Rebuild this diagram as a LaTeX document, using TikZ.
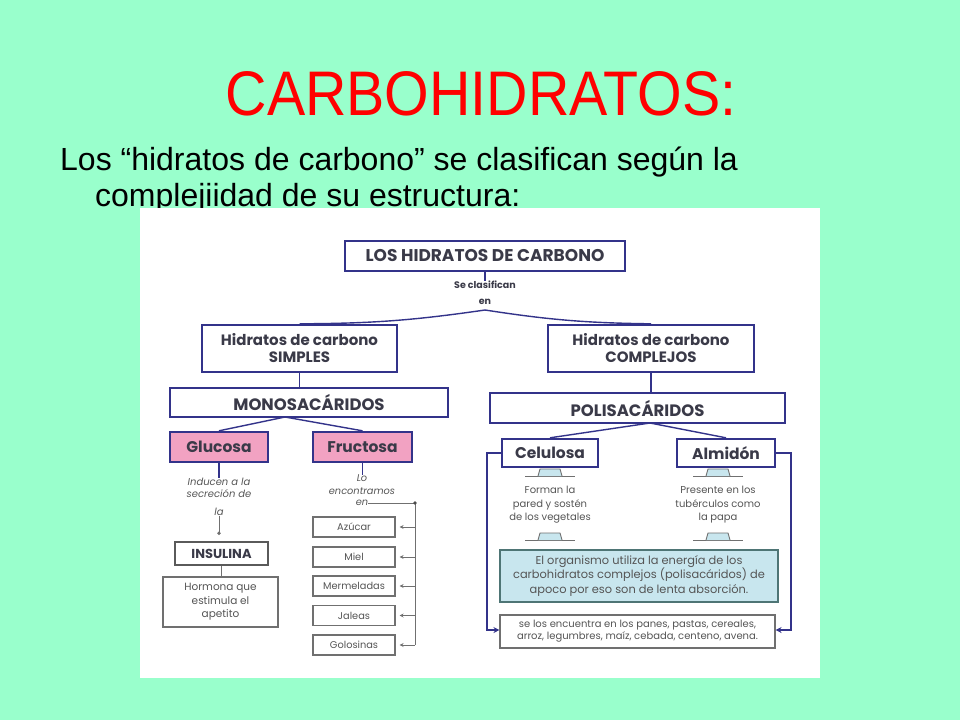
\documentclass[tikz,border=0pt]{standalone}
\usepackage{fontspec}
\setmainfont{Liberation Sans}
\newfontfamily\dg{Poppins}
\usetikzlibrary{arrows.meta}
\definecolor{bg}{HTML}{99FFCC}
\definecolor{navy}{HTML}{33338A}
\definecolor{txt}{HTML}{3A3A48}
\definecolor{pinkf}{HTML}{F2A2C2}
\definecolor{bluef}{HTML}{C8E6EE}
\definecolor{gline}{HTML}{707070}
\definecolor{gtxt}{HTML}{555555}
\begin{document}
\begin{tikzpicture}[x=1pt,y=-1pt,
  box/.style={draw=navy, line width=2.4pt, fill=white, text=txt, align=center, inner sep=0pt},
  pinkbox/.style={box, fill=pinkf, text=txt},
  thinbox/.style={draw=gline, line width=1.1pt, fill=white, text=gtxt, align=center, inner sep=0pt},
  small/.style={text=gtxt, align=center, inner sep=0pt, font=\dg\fontsize{10}{13.5}\selectfont},
  conn/.style={draw=navy, line width=1.4pt},
  gconn/.style={draw=gline, line width=1pt},
  linkicon/.pic={\draw[gline, line width=0.9pt] (-25,3)--(25,3);
     \draw[gline, fill=bluef, line width=0.9pt] (-12,3)--(-10,-4)--(10,-4)--(12,3);}
]
\useasboundingbox (0,0) rectangle (960,720);
\fill[bg] (0,0) rectangle (960,720);

% title and subtitle
\node[text=red, font=\fontsize{63}{63}\selectfont, anchor=base, inner sep=0pt] (title) at (481,115) {\scalebox{0.91}[1]{CARBOHIDRATOS:}};
\node[anchor=base west, inner sep=0pt, font=\fontsize{32}{32}\selectfont] (sub1) at (60,170) {Los “hidratos de carbono” se clasifican según la};
\node[anchor=base west, inner sep=0pt, font=\fontsize{32}{32}\selectfont] (sub2) at (95,206) {complejiidad de su estructura:};

% white picture area
\fill[white] (140,208) rectangle (820,678);

% top levels
\node[box, minimum width=280, minimum height=30, font=\dg\bfseries\fontsize{17}{17}\selectfont] (los) at (485,256) {LOS HIDRATOS DE CARBONO};
\node[small, font=\dg\bfseries\fontsize{9.5}{16}\selectfont, text=txt] (secl) at (485,293) {Se clasifican\\en};
\coordinate (apex) at (485,310);
\node[box, minimum width=195, minimum height=47, font=\dg\bfseries\fontsize{15}{17}\selectfont] (simp) at (299.5,348.5) {Hidratos de carbono\\SIMPLES};
\node[box, minimum width=206, minimum height=47, font=\dg\bfseries\fontsize{15}{17}\selectfont] (comp) at (651,348.5) {Hidratos de carbono\\COMPLEJOS};
\draw[conn] (los.south) -- (los.south |- 0,281);
\draw[conn] (apex) to[bend left=4] (simp.north);
\draw[conn] (apex) to[bend right=4] (comp.north);

\node[box, minimum width=278, minimum height=29, font=\dg\bfseries\fontsize{16.5}{17}\selectfont] (mono) at (309,402.5) {MONOSACÁRIDOS};
\node[box, minimum width=295, minimum height=30, font=\dg\bfseries\fontsize{16.5}{17}\selectfont] (poli) at (637.5,408) {POLISACÁRIDOS};
\draw[conn] (simp.south) -- (simp.south |- mono.north);
\draw[conn] (comp.south) -- (comp.south |- poli.north);

% monosacaridos branch
\node[pinkbox, minimum width=98, minimum height=30, font=\dg\bfseries\fontsize{15.5}{16}\selectfont] (glu) at (219,447) {Glucosa};
\node[pinkbox, minimum width=99, minimum height=30, font=\dg\bfseries\fontsize{15.5}{16}\selectfont] (fru) at (362.5,447) {Fructosa};
\coordinate (mapex) at (285,417);
\draw[conn] (mapex) -- (glu.north);
\draw[conn] (mapex) -- (fru.north);

\node[small, font=\dg\itshape\fontsize{10}{12.5}\selectfont] (ind) at (219,488) {Inducen a la\\secreción de};
\node[small, font=\dg\itshape\fontsize{10}{12}\selectfont] (la) at (219,512) {la};
\draw[conn, line width=1.1pt] (glu.south) -- (ind.north);
\node[box, line width=1.8pt, draw=gline!80!black, minimum width=93, minimum height=23, font=\dg\bfseries\fontsize{13}{13}\selectfont] (insu) at (221.5,553.5) {INSULINA};
\draw[gconn, -{Circle[length=3.5pt]}] (la.south -| 219,0) -- (219,535);
\node[thinbox, minimum width=115, minimum height=50, font=\dg\fontsize{10.5}{13.5}\selectfont] (horm) at (220.5,602) {Hormona que\\estimula el\\apetito};
\draw[gconn] (insu.south) -- (horm.north -| insu.south);

\node[small, font=\dg\itshape\fontsize{9.8}{13}\selectfont] (lo) at (362,485) {Lo\\encontramos};
\node[small, font=\dg\itshape\fontsize{9.8}{13}\selectfont] (en) at (362,503) {en};
\draw[conn, line width=1.1pt] (fru.south) -- (lo.north -| fru.south);
\coordinate (vtop) at (415,503);
\coordinate (vbot) at (415,645);
\draw[gconn] (en.east) -- (vtop) -- (vbot);
\fill[black!70] (vtop) circle (1.8);
\foreach \n/\t/\yy in {az/Azúcar/527, mi/Miel/557, me/Mermeladas/586, ja/Jaleas/615.5, go/Golosinas/645}{
  \node[thinbox, minimum width=82, minimum height=20, font=\dg\fontsize{9.8}{10}\selectfont] (\n) at (354,\yy) {\t};
  \draw[gconn, -{Stealth[length=4pt,width=4pt]}] (415,\yy) -- ([xshift=4pt]\n.east);
}

% polisacaridos branch
\node[box, minimum width=96, minimum height=28, fill=white, font=\dg\bfseries\fontsize{15.5}{16}\selectfont] (cel) at (550,453) {Celulosa};
\node[box, minimum width=98, minimum height=28, fill=white, font=\dg\bfseries\fontsize{15.5}{16}\selectfont] (alm) at (726,453) {Almidón};
\coordinate (papex) at (650,423);
\draw[conn] (papex) -- (cel.north);
\draw[conn] (papex) -- (alm.north);

\pic at (550,473) {linkicon};
\pic at (718,473) {linkicon};
\pic at (550,537) {linkicon};
\pic at (718,537) {linkicon};
\node[small, font=\dg\fontsize{10}{13.5}\selectfont] (celt) at (550,505) {Forman la\\pared y sostén\\de los vegetales};
\node[small, font=\dg\fontsize{10}{13.5}\selectfont] (almt) at (718,505) {Presente en los\\tubérculos como\\la papa};

\node[draw=gline!70!teal, line width=1.8pt, fill=bluef, text=gtxt, align=center, inner sep=0pt,
      minimum width=278, minimum height=52, font=\dg\fontsize{11.4}{14.5}\selectfont] (blue) at (639,576)
      {El organismo utiliza la energía de los\\carbohidratos complejos (polisacáridos) de\\apoco por eso son de lenta absorción.};
\node[thinbox, minimum width=275, minimum height=33, font=\dg\fontsize{10}{12}\selectfont] (bot) at (637.5,631.5)
      {se los encuentra en los panes, pastas, cereales,\\arroz, legumbres, maíz, cebada, centeno, avena.};

\draw[conn, -{Stealth[length=6pt,width=6pt]}] (cel.west) -- (487,453) -- (487,630) -- (bot.west |- 0,630);
\draw[conn, -{Stealth[length=6pt,width=6pt]}] (alm.east) -- (791,453) -- (791,630) -- (bot.east |- 0,630);
\end{tikzpicture}
\end{document}
